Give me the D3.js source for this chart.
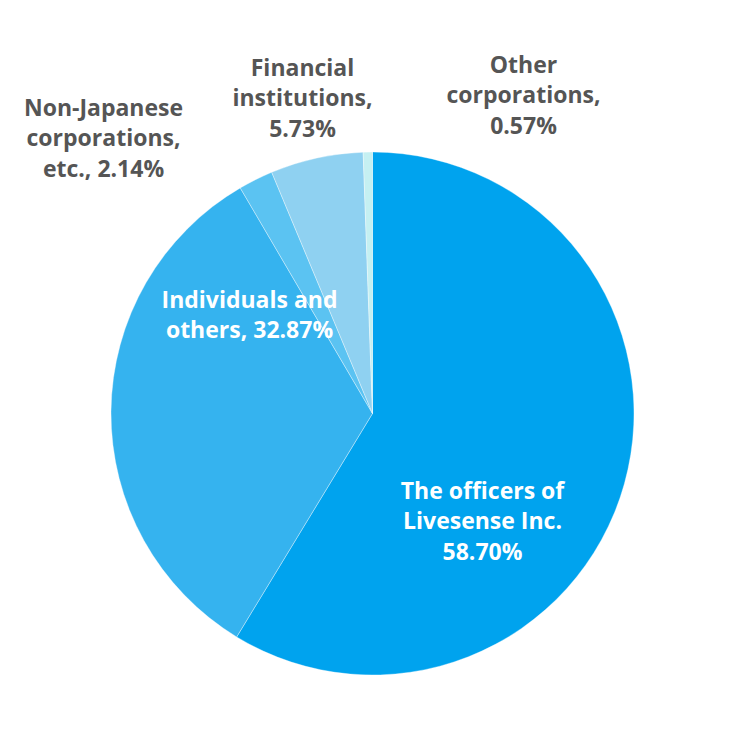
<!DOCTYPE html>
<html>
<head>
<meta charset="utf-8">
<script src="https://cdn.jsdelivr.net/npm/d3@7"></script>
<style>
  body { margin: 0; background: #fff; }
  text { font-family: "Open Sans", Lato, sans-serif; font-weight: 700; font-variant-ligatures: none; }
</style>
</head>
<body>
<svg width="749" height="755"></svg>
<script>
// share of holders, clockwise from 12 o'clock
var categories = ["The officers of Livesense Inc.", "Individuals and others", "Non-Japanese corporations, etc.", "Financial institutions", "Other corporations"];
var values = [58.70, 32.87, 2.14, 5.73, 0.57];
var colors = ["#00a3ee", "#35b3ef", "#5bc3f2", "#8fd1f1", "#c5f0f2"];

// label lines for each slice
var labelLines = [
  ["The officers of", "Livesense Inc.", "58.70%"],
  ["Individuals and", "others, 32.87%"],
  ["Non-Japanese", "corporations,", "etc., 2.14%"],
  ["Financial", "institutions,", "5.73%"],
  ["Other", "corporations,", "0.57%"]
];

var svg = d3.select('svg');
var cx = 372.5, cy = 413.5, radius = 261.5;

var pie = d3.pie().sort(null).value(function(d) { return d; });
var arc = d3.arc().innerRadius(0).outerRadius(radius);
var arcs = pie(values);

var g = svg.append('g').attr('transform', 'translate(' + cx + ',' + cy + ')');

g.selectAll('path')
  .data(arcs)
  .enter()
  .append('path')
    .attr('d', arc)
    .style('fill', function(d, i) { return colors[i]; })
    .style('stroke', 'rgba(255,255,255,0.35)')
    .style('stroke-width', 1);

// label anchors (centre x, first line y) relative to the pie centre
var inside = [true, true, false, false, false];
var labelPos = [
  [110, 85],
  [-123, -106],
  [-269, -298],
  [-70, -338],
  [151, -341]
];
var lineH = 30.5;

labelLines.forEach(function(lines, i) {
  var t = g.append('text')
    .attr('text-anchor', 'middle')
    .style('font-size', '23px')
    .style('fill', inside[i] ? '#ffffff' : '#555555');
  lines.forEach(function(s, j) {
    t.append('tspan')
      .attr('x', labelPos[i][0])
      .attr('y', labelPos[i][1] + j * lineH)
      .text(s);
  });
});
</script>
</body>
</html>
